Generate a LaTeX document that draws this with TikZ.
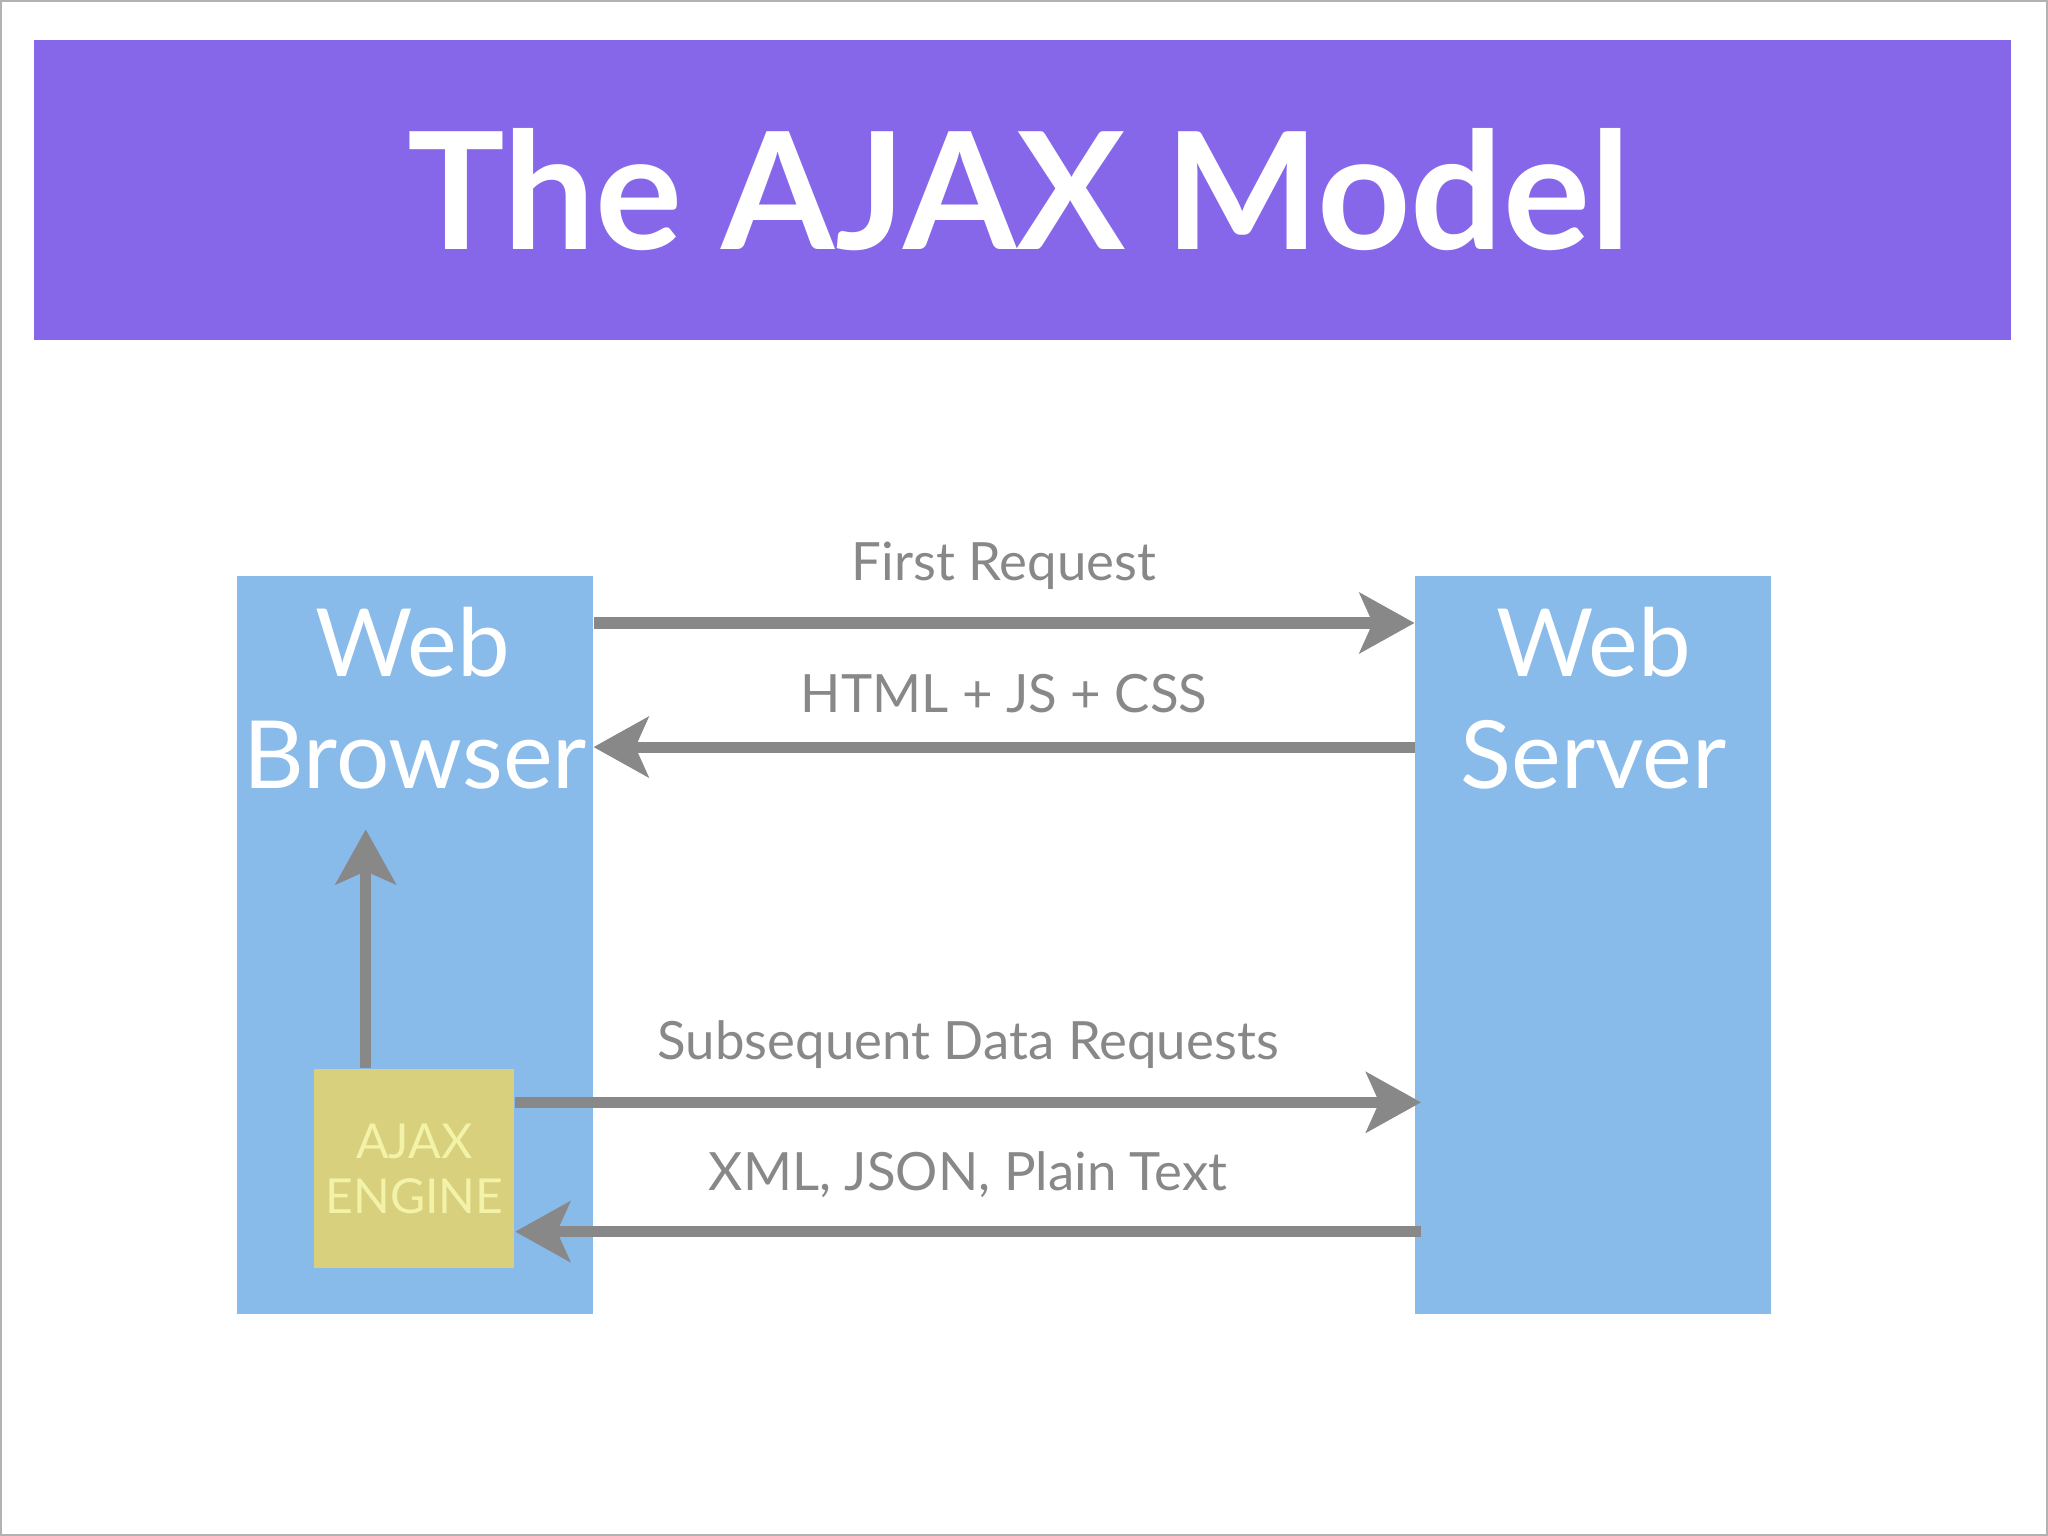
\documentclass[tikz,border=0pt]{standalone}
\usepackage{fontspec}
\setmainfont{Lato}
\usetikzlibrary{arrows.meta,positioning}
\definecolor{titlebg}{HTML}{8667EA}
\definecolor{boxblue}{HTML}{88BAEA}
\definecolor{enginebg}{HTML}{D8D07C}
\definecolor{enginetx}{HTML}{F2F2A8}
\definecolor{arrgray}{HTML}{888888}
\tikzset{
  arr/.style={draw=arrgray,line width=2.4pt,-{Stealth[length=0.42cm,width=0.46cm,inset=0.1cm]}},
  box/.style={fill=boxblue,inner sep=0pt,minimum width=2.72cm,minimum height=5.65cm},
  boxtext/.style={white,font=\fontsize{20.5}{23}\selectfont},
  lbl/.style={arrgray,font=\fontsize{11.5}{13}\selectfont}
}
\begin{document}
\begin{tikzpicture}
    \useasboundingbox (0,0) rectangle (15.68,11.76);
    \draw[gray!60] (0.01,0.01) rectangle (15.67,11.75);
    % title
    \fill[titlebg] (0.26,9.16) rectangle (15.40,11.45);
    \node[white,font=\fontsize{35.5}{40}\selectfont\bfseries] (title) at (7.80,10.31) {The AJAX Model};
    % boxes
    \node[box,anchor=north west] (browser) at (1.81,7.36) {};
    \node[box,anchor=north west] (server) at (10.83,7.36) {};
    \node[boxtext] (web1) at (3.16,6.84) {Web};
    \node[boxtext] (brw) at (3.18,5.98) {Browser};
    \node[boxtext] (web2) at (12.20,6.84) {Web};
    \node[boxtext] (srv) at (12.20,5.98) {Server};
    \node[fill=enginebg,minimum width=1.53cm,minimum height=1.52cm,inner sep=0pt,anchor=north west] (engine) at (2.40,3.58) {};
    \node[enginetx,font=\fontsize{10.5}{13}\selectfont,align=center] at (engine.center) {AJAX\\[-1pt]ENGINE};
    \coordinate (up) at (2.80,5.41);
    % connectors
    \draw[arr] ([yshift=-0.37cm]browser.north east) -- node[lbl,above=0.1cm] {First Request} ([yshift=-0.37cm]server.north west);
    \draw[arr] ([yshift=-1.32cm]server.north west) -- node[lbl,above=0.1cm] {HTML + JS + CSS} ([yshift=-1.32cm]browser.north east);
    \draw[arr] (engine.north west -| up) -- (up);
    \draw[arr] ([yshift=-0.26cm]engine.north east) -- node[lbl,above=0.1cm] {Subsequent Data Requests} ([yshift=-0.26cm,xshift=0.05cm]engine.north east -| server.west);
    \draw[arr] ([yshift=-1.25cm,xshift=0.05cm]engine.north east -| server.west) -- node[lbl,above=0.1cm] {XML, JSON, Plain Text} ([yshift=-1.25cm]engine.north east);
\end{tikzpicture}
\end{document}
